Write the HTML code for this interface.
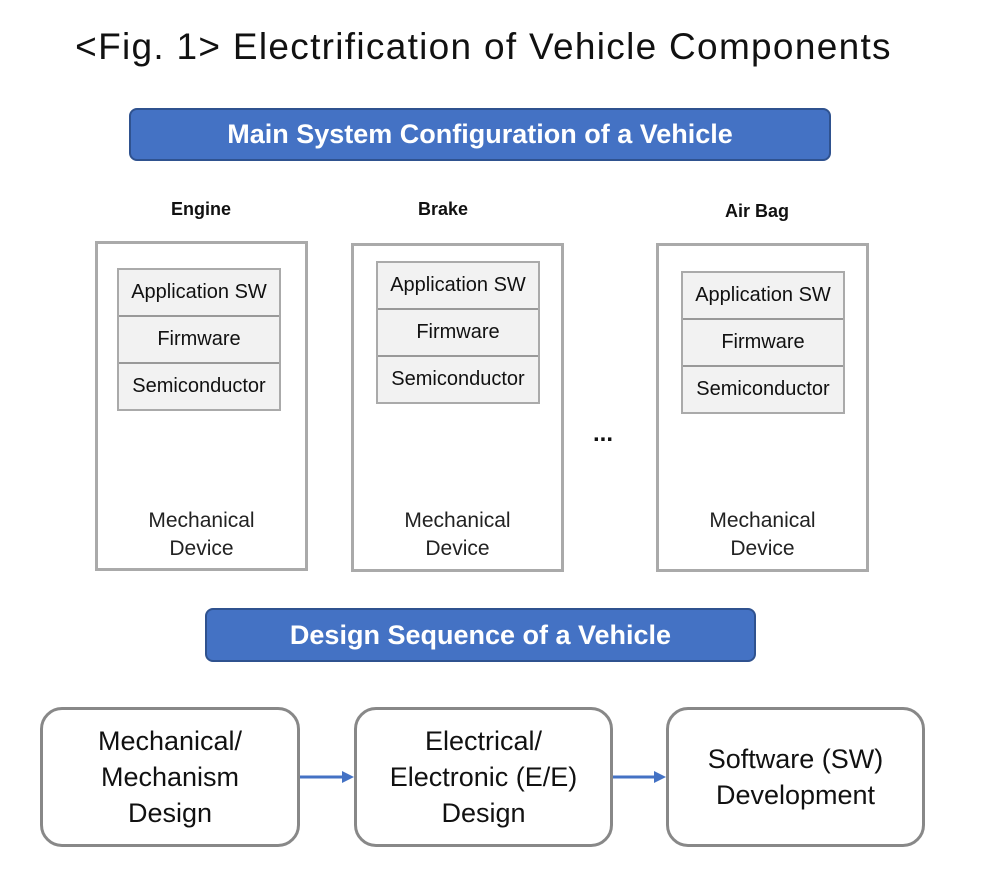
<!DOCTYPE html>
<html><head><style>
body{margin:0;width:997px;height:877px;background:#fff;position:relative;font-family:"Liberation Sans",sans-serif;overflow:hidden}
div{position:absolute;box-sizing:border-box}
.t{white-space:nowrap;text-align:center;color:#111}
.bar{background:#4472c4;border:2px solid #2f528f;border-radius:8px;color:#fff;font-weight:bold;font-size:27px;text-align:center}
.box{border:3px solid #aaa;background:#fff}
.stk{border:2px solid #aaa;background:#f2f2f2}
.row{left:0;right:0;height:47px;line-height:45px;text-align:center;font-size:20px;color:#111;border-bottom:2px solid #999}
.row:last-child{border-bottom:none}
.md{font-size:21px;line-height:28px;text-align:center;left:0;right:0;color:#222}
.rb{border:3px solid #888;border-radius:22px;background:#fff;display:flex;align-items:center;justify-content:center;text-align:center;font-size:27px;line-height:36px;color:#111}
.lbl{font-weight:bold;font-size:18px}
</style></head><body>
<div class="t" style="left:0;width:967px;top:25px;font-size:37px;letter-spacing:1.3px;line-height:44px">&lt;Fig. 1&gt; Electrification of Vehicle Components</div>
<div class="bar" style="left:129px;top:108px;width:702px;height:53px;line-height:49px">Main System Configuration of a Vehicle</div>

<div class="t lbl" style="left:151px;width:100px;top:199px">Engine</div>
<div class="t lbl" style="left:393px;width:100px;top:199px">Brake</div>
<div class="t lbl" style="left:707px;width:100px;top:201px">Air Bag</div>

<div class="box" style="left:95px;top:241px;width:213px;height:330px">
 <div class="stk" style="left:19px;top:24px;width:164px;height:143px"><div class="row" style="position:relative">Application SW</div><div class="row" style="position:relative">Firmware</div><div class="row" style="position:relative">Semiconductor</div></div>
 <div class="md" style="top:263px">Mechanical<br>Device</div>
</div>
<div class="box" style="left:351px;top:243px;width:213px;height:329px">
 <div class="stk" style="left:22px;top:15px;width:164px;height:143px"><div class="row" style="position:relative">Application SW</div><div class="row" style="position:relative">Firmware</div><div class="row" style="position:relative">Semiconductor</div></div>
 <div class="md" style="top:261px">Mechanical<br>Device</div>
</div>
<div class="box" style="left:656px;top:243px;width:213px;height:329px">
 <div class="stk" style="left:22px;top:25px;width:164px;height:143px"><div class="row" style="position:relative">Application SW</div><div class="row" style="position:relative">Firmware</div><div class="row" style="position:relative">Semiconductor</div></div>
 <div class="md" style="top:261px">Mechanical<br>Device</div>
</div>
<div class="t" style="left:583px;width:40px;top:420px;font-size:24px;font-weight:bold">...</div>

<div class="bar" style="left:205px;top:608px;width:551px;height:54px;line-height:50px">Design Sequence of a Vehicle</div>

<div class="rb" style="left:40px;top:707px;width:260px;height:140px">Mechanical/<br>Mechanism<br>Design</div>
<div class="rb" style="left:354px;top:707px;width:259px;height:140px">Electrical/<br>Electronic (E/E)<br>Design</div>
<div class="rb" style="left:666px;top:707px;width:259px;height:140px">Software (SW)<br>Development</div>
<svg style="position:absolute;left:0;top:0" width="997" height="877">
<line x1="300" y1="777" x2="344" y2="777" stroke="#4472c4" stroke-width="3"/>
<polygon points="342,771 354,777 342,783" fill="#4472c4"/>
<line x1="613" y1="777" x2="656" y2="777" stroke="#4472c4" stroke-width="3"/>
<polygon points="654,771 666,777 654,783" fill="#4472c4"/>
</svg>
</body></html>
